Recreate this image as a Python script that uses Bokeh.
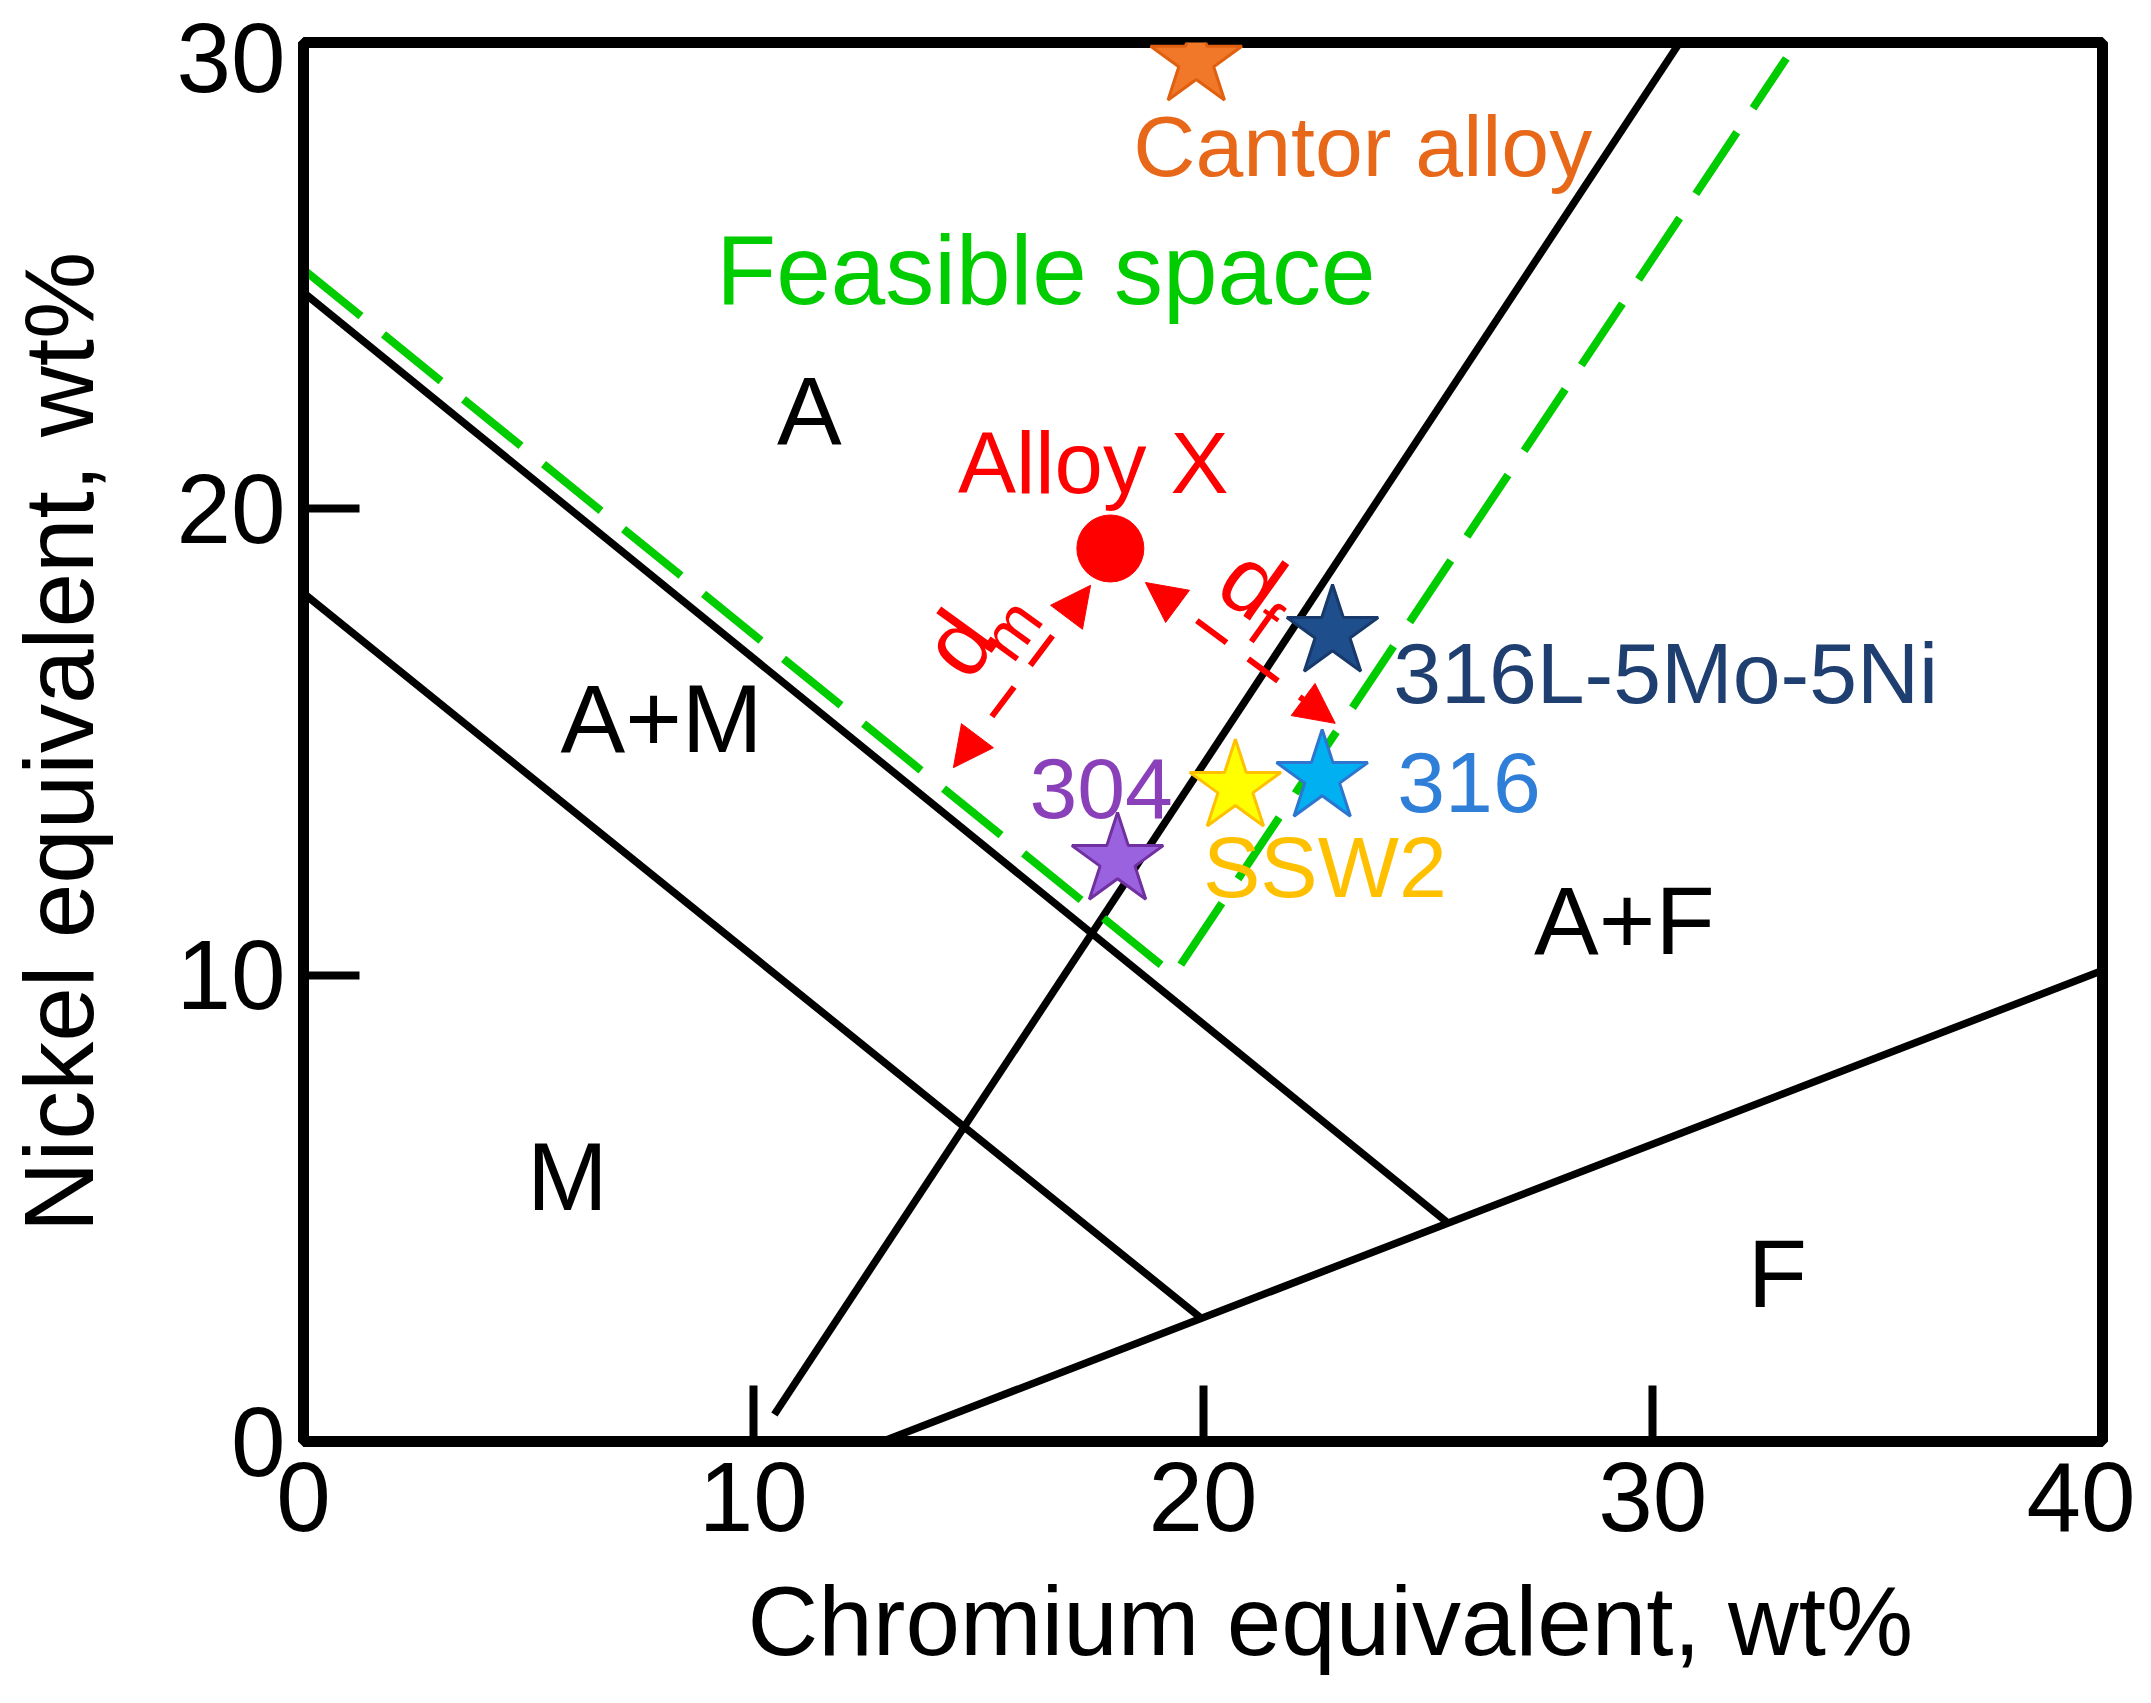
from bokeh.plotting import figure
from bokeh.models import (Range1d, Label, Arrow, NormalHead, FixedTicker, Title,
                          LinearAxis, NumeralTickFormatter, CustomJSTickFormatter)
from bokeh.embed import file_html
from bokeh.resources import INLINE

# ---------------- data ----------------
# phase-boundary lines of the Schaeffler-type diagram (Cr_eq, Ni_eq)
upper_am_cr = [0.0, 25.43]
upper_am_ni = [24.64, 4.70]
lower_m_cr = [0.0, 19.95]
lower_m_ni = [18.19, 2.65]
af_cr = [10.47, 30.60]
af_ni = [0.58, 30.0]
ferrite_cr = [12.87, 40.0]
ferrite_ni = [0.0, 10.1]
# feasible-space boundary (green dashed)
feasible_cr = [0.0, 19.35, 32.97]
feasible_ni = [25.13, 10.0, 29.66]

# reference alloys (stars)
alloy_names = ["Cantor alloy", "316L-5Mo-5Ni", "316", "SSW2", "304"]
alloy_cr = [19.85, 22.88, 22.65, 20.72, 18.10]
alloy_ni = [29.60, 17.35, 14.24, 14.03, 12.46]
alloy_fill = ["#F07828", "#1F4E8C", "#00B0F0", "#FFFF00", "#9B62E0"]
alloy_line = ["#E06010", "#173A6B", "#2E75D0", "#FFC000", "#7030A0"]
alloy_text_color = ["#E8681A", "#1F3F70", "#2F7FD8", "#FFC000", "#8A40B8"]
alloy_label_cr = [18.45, 24.23, 24.32, 20.00, 16.14]
alloy_label_ni = [27.77, 16.47, 14.13, 12.31, 14.00]

# designed alloy
alloyx_cr = [17.94]
alloyx_ni = [19.15]

# distance arrows
dm_start = (14.45, 14.45)
dm_end = (17.50, 18.36)
df_start = (18.72, 18.42)
df_end = (22.94, 15.40)

# phase-region labels
region_names = ["A", "A+M", "M", "A+F", "F"]
region_cr = [11.25, 7.96, 5.87, 29.37, 32.77]
region_ni = [22.11, 15.51, 5.68, 11.17, 3.61]

x_ticks = [0, 10, 20, 30, 40]
y_ticks = [0, 10, 20, 30]
# where the y tick labels sit (the top one is drawn a little below its tick)
y_label_pos = [0, 10, 20, 29.67]

FONT = "Liberation Sans"

# ---------------- figure ----------------
p = figure(width=2135, height=1687, output_backend="svg", toolbar_location=None,
           x_range=Range1d(0, 40), y_range=Range1d(0, 30),
           min_border_left=303, min_border_right=33,
           min_border_top=42, min_border_bottom=246)
p.grid.visible = False
p.background_fill_color = "white"
p.border_fill_color = "white"
p.outline_line_color = "black"
p.outline_line_width = 11

xax = p.xaxis[0]
yax = p.yaxis[0]
for ax in (xax, yax):
    ax.axis_line_width = 11
    ax.axis_line_color = "black"
    ax.major_tick_in = 56
    ax.major_tick_out = 0
    ax.major_tick_line_width = 8
    ax.minor_tick_line_color = None
    ax.major_label_text_font = FONT
    ax.major_label_text_font_size = "98px"
    ax.major_label_text_color = "black"

xax.ticker = FixedTicker(ticks=x_ticks)
xax.major_label_standoff = 21

# y axis next to the frame: tick marks only
yax.ticker = FixedTicker(ticks=y_ticks)
yax.formatter = CustomJSTickFormatter(code="return ''")
yax.major_label_standoff = 0

# outer y axis: tick labels and title
ylab = LinearAxis(ticker=FixedTicker(ticks=y_label_pos),
                  formatter=NumeralTickFormatter(format="0"),
                  axis_line_color=None, major_tick_line_color=None,
                  minor_tick_line_color=None, major_tick_in=0, major_tick_out=0,
                  major_label_standoff=18,
                  major_label_text_font=FONT, major_label_text_font_size="98px",
                  major_label_text_color="black",
                  axis_label="Nickel equivalent, wt%", axis_label_standoff=59,
                  axis_label_text_font=FONT, axis_label_text_font_size="98px",
                  axis_label_text_font_style="normal", axis_label_text_color="black")
p.add_layout(ylab, "left")

# x-axis title (placed left-offset as in the reference)
x_title = Title(text="Chromium equivalent, wt%", align="left", offset=444,
                standoff=0, text_font=FONT, text_font_size="98px",
                text_font_style="normal", text_color="black")
try:
    x_title.padding = dict(left=0, right=0, top=30, bottom=0)
except Exception:
    pass
p.add_layout(x_title, "below")

# ---------------- boundary lines ----------------
for xs, ys in ((upper_am_cr, upper_am_ni), (lower_m_cr, lower_m_ni),
               (af_cr, af_ni), (ferrite_cr, ferrite_ni)):
    p.line(xs, ys, line_color="black", line_width=7.5)

p.line(feasible_cr, feasible_ni, line_color="#00CC00", line_width=8,
       line_dash="74 29")

# ---------------- arrows ----------------
for (x0, y0), (x1, y1) in ((dm_start, dm_end), (df_start, df_end)):
    p.add_layout(Arrow(x_start=x0, y_start=y0, x_end=x1, y_end=y1,
                       line_color="#FF0000", line_width=6, line_dash="37 27",
                       start=NormalHead(size=40, fill_color="#FF0000", line_color="#FF0000", line_width=1),
                       end=NormalHead(size=40, fill_color="#FF0000", line_color="#FF0000", line_width=1)))

# ---------------- points ----------------
p.scatter(alloyx_cr, alloyx_ni, size=67, marker="circle",
          fill_color="#FF0000", line_color="#FF0000")
p.scatter(alloy_cr, alloy_ni, size=96, marker="star",
          fill_color=alloy_fill, line_color=alloy_line, line_width=3)

# ---------------- labels ----------------
for name, x, y, c in zip(alloy_names, alloy_label_cr, alloy_label_ni, alloy_text_color):
    p.add_layout(Label(x=x, y=y, text=name, text_font=FONT, text_font_size="86px",
                       text_color=c, text_align="left", text_baseline="alphabetic"))

p.add_layout(Label(x=17.56, y=21.0, text="Alloy X", text_font=FONT, text_font_size="87px",
                   text_color="#FF0000", text_align="center", text_baseline="alphabetic"))
p.add_layout(Label(x=9.18, y=25.12, text="Feasible space", text_font=FONT, text_font_size="98px",
                   text_color="#00CC00", text_align="left", text_baseline="alphabetic"))

for name, x, y in zip(region_names, region_cr, region_ni):
    p.add_layout(Label(x=x, y=y, text=name, text_font=FONT, text_font_size="97px",
                       text_color="black", text_align="center", text_baseline="alphabetic"))

# d_m and d_f labels (rotated, with subscripts)
p.add_layout(Label(x=14.56, y=17.11, text="d", angle=54, angle_units="deg", text_font=FONT,
                   text_font_size="94px", text_color="#FF0000", text_align="center", text_baseline="middle"))
p.add_layout(Label(x=15.72, y=17.42, text="m", angle=54, angle_units="deg", text_font=FONT,
                   text_font_size="66px", text_color="#FF0000", text_align="center", text_baseline="middle"))
p.add_layout(Label(x=21.10, y=18.42, text="d", angle=-35.5, angle_units="deg", text_font=FONT,
                   text_font_size="94px", text_color="#FF0000", text_align="center", text_baseline="middle"))
p.add_layout(Label(x=21.38, y=17.55, text="f", angle=-35.5, angle_units="deg", text_font=FONT,
                   text_font_size="66px", text_color="#FF0000", text_align="center", text_baseline="middle"))

open("out.html", "w").write(file_html(p, INLINE))
